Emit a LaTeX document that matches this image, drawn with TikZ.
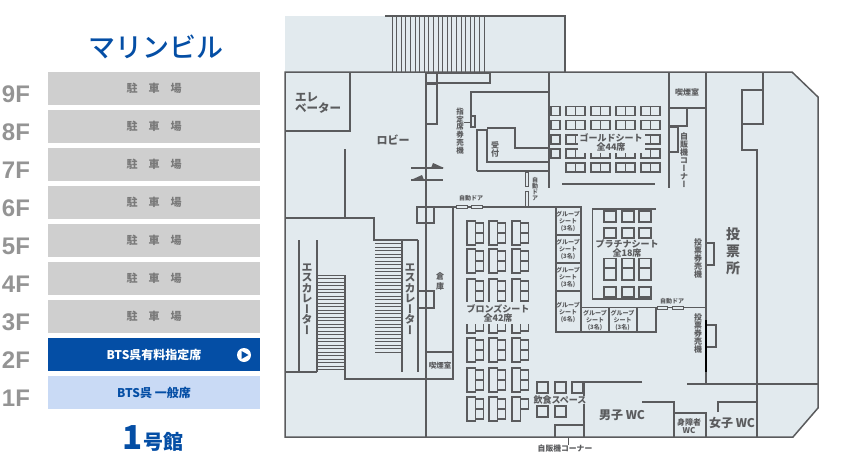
\documentclass[tikz,border=0pt]{standalone}
\usepackage{fontspec}
\usepackage{tikz}
\setmainfont{Noto Sans CJK JP}
\newfontfamily\jpv[RawFeature={+vert}]{Noto Sans CJK JP}
\newfontfamily\jpmed{Noto Sans CJK JP Medium}
\newfontfamily\flrfont{Liberation Sans}
\lineskiplimit=-100pt
\definecolor{floor}{HTML}{E2EAEE}
\definecolor{wall}{HTML}{5A5B5D}
\definecolor{navy}{HTML}{044EA5}
\definecolor{pale}{HTML}{C9DAF5}
\definecolor{parking}{HTML}{CFCFCF}
\tikzset{
	wallline/.style={draw=wall,line width=1.5pt},
	seat/.style={draw=wall,line width=1.1pt},
	bar/.style={minimum width=212pt,minimum height=33pt,inner sep=0pt,font=\bfseries\fontsize{12}{12}\selectfont},
	flrlabel/.style={text=black!42,inner sep=0pt,font=\flrfont\bfseries\fontsize{24}{24}\selectfont},
	maplabel/.style={text=wall,inner sep=0pt,align=center,font=\bfseries\fontsize{#1}{#1}\selectfont},
	maplabel/.default=8,
	tate/.style n args={2}{text=wall,inner sep=0pt,align=center,font=\jpv\bfseries\fontsize{#1}{#2}\selectfont},
	grouplabel/.style={text=wall,inner sep=0pt,align=center,font=\bfseries\fontsize{6}{7}\selectfont}
}
\begin{document}
\begin{tikzpicture}[x=1pt,y=-1pt]
	\useasboundingbox (0,0) rectangle (868,455);

	% Draw floor area
	\fill[floor] (285,16) -- (565,16) -- (565,72) -- (792,72) -- (818,97) -- (818,408) -- (793,437) -- (285,437) -- cycle;

	% Draw outer walls
	\draw[wallline] (285,72) -- (792,72) -- (818,97) -- (818,408) -- (793,437) -- (285,437) -- cycle;
	\draw[wallline] (385,16) -- (565,16) -- (565,72);

	% Draw outside stairs
	\foreach \x in {392,396.6,...,488}
	\draw[wall,line width=1pt] (\x,16) -- (\x,72);

	% Draw elevator and lobby walls
	\draw[wallline] (350,72) -- (350,131) -- (285,131);
	\draw[wallline] (345,149) -- (345,218);
	\draw[wallline] (285,218) -- (374,218) -- (374,240) -- (418,240);
	\draw[wallline] (345,275) -- (345,379) -- (426,379);
	\draw[wallline] (285,372) -- (317,372);
	\draw[wallline] (299,240) -- (299,372);
	\draw[wallline] (317,240) -- (317,372);
	\draw[wallline] (402,240) -- (402,372);
	\draw[wallline] (418,240) -- (418,372);

	% Draw escalator steps
	\foreach \y in {275,278.5,...,372}
	\draw[wall,line width=.8pt] (318,\y) -- (345,\y);
	\foreach \y in {240,243.5,...,354}
	\draw[wall,line width=.8pt] (375,\y) -- (402,\y);

	% Draw centre wall with pillars
	\draw[wallline] (426,72) -- (426,437);
	\draw[wallline] (417,207) rectangle (434,223);
	\draw[wallline] (418,291) rectangle (434,308);

	% Draw store room and smoking room
	\draw[wallline] (453,207) -- (453,379) -- (426,379);
	\draw[wallline] (426,352) -- (453,352);

	% Draw ticket office
	\draw[wall,line width=1.2pt] (426,73) rectangle (437,83);
	\draw[wall,line width=1.2pt] (437,73) rectangle (490,83);
	\draw[wall,line width=1.2pt] (426,84) rectangle (437,124);
	\draw[wallline] (549,72) -- (549,188);
	\draw[wallline] (549,92) -- (471,92) -- (471,127);
	\draw[wall,line width=1.2pt] (471,116) rectangle (475,127);
	\draw[wallline] (477,171) -- (477,130) -- (487,130) -- (487,162) -- (549,162);
	\draw[wallline] (487,128) -- (515,128) -- (515,148) -- (549,148);
	\draw[wallline] (477,171) -- (549,171);
	\draw[wall,line width=1pt] (525,172) rectangle (528,186);
	\draw[wall,line width=1pt] (525,191) rectangle (528,206);

	% Draw lobby doors with arrows
	\draw[wallline] (411,168) -- (443,168);
	\fill[wall] (431,168) -- (433,163) -- (444,168) -- cycle;
	\draw[wallline] (411,180) -- (443,180);
	\fill[wall] (411,180) -- (422,175) -- (424,180) -- cycle;

	% Draw wall of the hall with automatic doors
	\draw[wallline] (426,207) -- (581,207);
	\draw[wall,line width=1pt,fill=floor] (456,205.5) rectangle (467,208.5);
	\draw[wall,line width=1pt,fill=floor] (471,205.5) rectangle (482,208.5);

	% Draw gold seats
	\foreach \y in {106.5,120.5,135,149} {
		\draw[seat] (551,\y) rectangle ++(9,9);
	}
	\foreach \x in {566,591,616,641}
	\foreach \y in {106.5,120.5,135,149,163} {
		\draw[seat] (\x,\y) rectangle ++(9.5,9);
		\draw[seat] (\x+9.5,\y) rectangle ++(9.5,9);
	}
	\draw[wallline] (562,184) -- (655,184);
	\draw[wallline] (669,72) -- (669,188);

	% Draw smoking room and vending corner at the top right
	\draw[wallline] (669,108) -- (706,108);
	\draw[wallline] (669,126) -- (687,126) -- (687,108);
	\draw[wallline] (669,127) -- (678,127) -- (678,152) -- (669,152);

	% Draw polling place walls
	\draw[wallline] (706,72) -- (706,384);
	\draw[wallline] (763,72) -- (763,124) -- (742,124);
	\draw[wallline] (763,90) -- (742,90) -- (742,150) -- (757,150) -- (757,437);
	\draw[wallline] (687,384) -- (818,384);
	\draw[wall,line width=1.2pt] (706,243) rectangle (714,265);
	\draw[wall,line width=1.2pt] (706,325) rectangle (716,347);
	\draw[black,line width=1.2pt] (706,320) -- (706,372);

	% Draw platinum seats
	\draw[wallline] (656,209) -- (592.5,209) -- (592.5,299) -- (652,299);
	\foreach \x in {604,622,639}
	\foreach \y/\h in {211/11,228/10,258/10,268/12,287/10}
	\draw[seat] (\x,\y) rectangle ++(12,\h);

	% Draw group seats
	\draw[wallline] (556,207) rectangle (581,332);
	\draw[wallline] (556,235) -- (581,235);
	\draw[wallline] (556,263) -- (581,263);
	\draw[wallline] (556,291) -- (581,291);
	\draw[wallline] (581,332) -- (656,332) -- (656,307.5) -- (581,307.5);
	\draw[wallline] (609,307.5) -- (609,332);
	\draw[wallline] (637,307.5) -- (637,332);
	\draw[wallline] (656,307.5) -- (706,307.5);
	\draw[wall,line width=1pt,fill=floor] (657,306) rectangle (667,309.5);
	\draw[wall,line width=1pt,fill=floor] (672,306) rectangle (683,309.5);

	% Draw bronze seats
	\foreach \x in {467,489,512}
	\foreach \y in {221,249,279,309,338,368} {
		\draw[seat] (\x,\y) rectangle ++(8.3,24);
		\draw[seat] (\x+8.3,\y+2) rectangle ++(8.3,10);
		\draw[seat] (\x+8.3,\y+12) rectangle ++(8.3,10);
	}
	\foreach \x in {467,489} {
		\draw[seat] (\x,397) rectangle ++(8.3,24);
		\draw[seat] (\x+8.3,399) rectangle ++(8.3,10);
		\draw[seat] (\x+8.3,409) rectangle ++(8.3,10);
	}
	\draw[seat] (512,397) rectangle ++(8.3,24);
	\draw[seat] (520.3,399) rectangle ++(8.3,10);

	% Draw snack space seats
	\foreach \x in {537,555,572}
	\draw[seat] (\x,382) rectangle ++(11,11);
	\foreach \x in {537,555}
	\draw[seat] (\x,406) rectangle ++(11,11);

	% Draw toilets
	\draw[wallline] (642,382) -- (584,382) -- (584,437);
	\draw[wallline] (642,402) -- (674,402) -- (674,437);
	\draw[wallline] (674,413) -- (706,413) -- (706,437);
	\draw[wallline] (718,412) -- (718,402) -- (757,402);
	\draw[wallline] (555,437) -- (555,425) -- (584,425);

	% Add text on the plan
	\node[tate={8}{8}] (vendor label) at (684,160) {自\\販\\機\\コ\\ー\\ナ\\ー};
	\node[tate={7.5}{7.8}] (ticket label) at (460,131) {指\\定\\席\\券\\売\\機};
	\coordinate (ticket box) at (471,122);
	\draw[wall,line width=.8pt] (ticket label.east |- ticket box) -- (ticket box);
	\node[tate={8}{8}] (reception label) at (495,149) {受\\付};
	\node[tate={6}{6}] (door label b) at (535,189) {自\\動\\ド\\ア};
	\node[maplabel=6] (door label a) at (471,198) {自動ドア};
	\node[maplabel=6] (door label c) at (672,301) {自動ドア};
	\node[tate={8}{8}] (vote label a) at (698,258) {投\\票\\券\\売\\機};
	\node[tate={8}{8}] (vote label b) at (698,333) {投\\票\\券\\売\\機};
	\node[tate={14}{17}] (vote place) at (733,251) {投\\票\\所};
	\node[tate={11}{10.5}] (escalator a) at (307,299) {エ\\ス\\カ\\レ\\ー\\タ\\ー};
	\node[tate={11}{10.5}] (escalator b) at (410,299) {エ\\ス\\カ\\レ\\ー\\タ\\ー};
	\node[tate={8}{10}] (store label) at (440,281) {倉\\庫};
	\node[maplabel=7.5] (smoke label a) at (440,366) {喫煙室};
	\node[maplabel=8] (smoke label b) at (687,92) {喫煙室};
	\node[maplabel=11] (lobby label) at (393,140) {ロビー};
	\node[maplabel=11.5,align=left] (elevator label) at (318,103) {エレ\\ベーター};

	\node[maplabel=9,fill=floor,inner sep=2pt] (gold label) at (611,142) {ゴールドシート\\全44席};
	\node[maplabel=9,fill=floor] (platinum label) at (627,249) {プラチナシート\\全18席};
	\node[maplabel=9,fill=floor,inner sep=2pt] (bronze label) at (498,313) {ブロンズシート\\全42席};

	\node[grouplabel] (group a) at (568,221) {グループ\\シート\\(3名)};
	\node[grouplabel] (group b) at (568,249) {グループ\\シート\\(3名)};
	\node[grouplabel] (group c) at (568,277) {グループ\\シート\\(3名)};
	\node[grouplabel] (group d) at (568,312) {グループ\\シート\\(6名)};
	\node[grouplabel] (group e) at (595,320) {グループ\\シート\\(3名)};
	\node[grouplabel] (group f) at (622.5,320) {グループ\\シート\\(3名)};

	\node[maplabel=9,fill=floor] (snack label) at (560,400) {飲食スペース};
	\node[maplabel=12] (men label) at (622,415) {男子 WC};
	\node[maplabel=8] (access label) at (689,426) {身障者\\WC};
	\node[maplabel=12] (women label) at (732,423) {女子 WC};
	\node[maplabel=7.8] (corner label) at (565,449) {自販機コーナー};
	\coordinate (corner box) at (568,437);
	\draw[wall,line width=.8pt] (corner box) -- (corner label.north -| corner box);

	% Draw floor bars and labels
	\foreach \n/\y in {9/88.5,8/126.5,7/164.5,6/202.5,5/240.5,4/278.5,3/316.5} {
		\node[bar,fill=parking,text=black!52,font=\bfseries\fontsize{11}{11}\selectfont] (bar\n) at (154,\y) {駐　車　場};
		\node[flrlabel] (flr\n) at (16,\y+5.5) {\n F};
	}
	\node[bar,fill=navy,text=white] (bar2) at (154,354.5) {BTS呉有料指定席};
	\node[flrlabel] (flr2) at (16,360) {2F};
	\node[bar,fill=pale,text=navy] (bar1) at (154,392.5) {BTS呉 一般席};
	\node[flrlabel] (flr1) at (16,398) {1F};

	% Draw play icon on the 2F bar
	\fill[white] (244,355) circle[radius=7];
	\fill[navy] (241.5,351) -- (248.5,355) -- (241.5,359) -- cycle;

	% Add building names
	\node[text=navy,inner sep=0pt,font=\jpmed\fontsize{27}{27}\selectfont] (title) at (156,47) {マリンビル};
	\node[text=navy,inner sep=0pt,font=\bfseries\fontsize{20}{20}\selectfont] (building) at (153,438) {{\fontsize{33}{33}\selectfont 1}号館};
\end{tikzpicture}
\end{document}
